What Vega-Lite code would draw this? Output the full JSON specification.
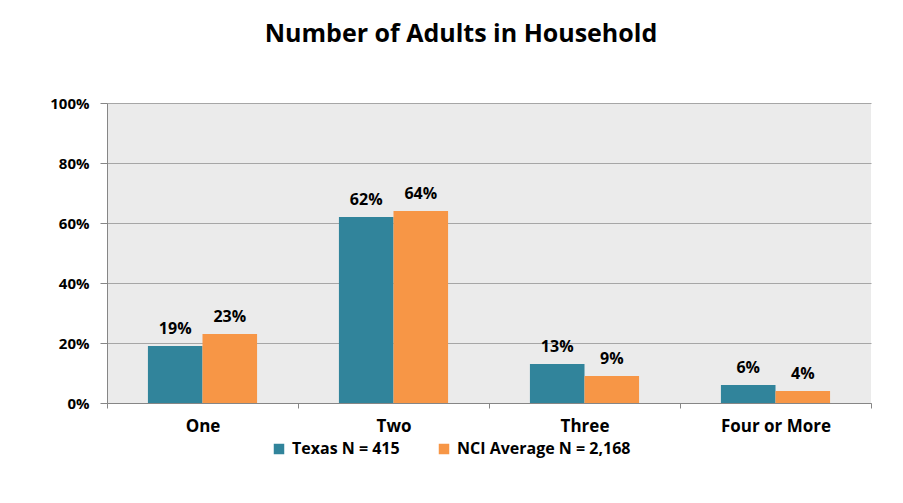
{
  "$schema": "https://vega.github.io/schema/vega-lite/v6.json",
  "autosize": "none",
  "width": 764,
  "height": 300,
  "padding": {"left": 107, "top": 103, "right": 32, "bottom": 100},
  "background": "white",
  "title": {
    "text": "Number of Adults in Household",
    "font": "Open Sans",
    "fontSize": 25,
    "fontWeight": "bold",
    "color": "#000000",
    "anchor": "middle",
    "dx": -28,
    "offset": 49
  },
  "data": {
    "values": [
      {"cat": "One", "series": "Texas N = 415", "value": 0.19},
      {"cat": "One", "series": "NCI Average N = 2,168", "value": 0.23},
      {"cat": "Two", "series": "Texas N = 415", "value": 0.62},
      {"cat": "Two", "series": "NCI Average N = 2,168", "value": 0.64},
      {"cat": "Three", "series": "Texas N = 415", "value": 0.13},
      {"cat": "Three", "series": "NCI Average N = 2,168", "value": 0.09},
      {"cat": "Four or More", "series": "Texas N = 415", "value": 0.06},
      {"cat": "Four or More", "series": "NCI Average N = 2,168", "value": 0.04}
    ]
  },
  "encoding": {
    "x": {
      "field": "cat",
      "type": "nominal",
      "sort": ["One", "Two", "Three", "Four or More"],
      "scale": {"paddingInner": 0, "paddingOuter": 0},
      "axis": {
        "title": null,
        "labelAngle": 0,
        "labelFont": "Open Sans",
        "labelFontSize": 17,
        "labelFontWeight": "bold",
        "labelColor": "#000000",
        "labelPadding": 10,
        "tickBand": "extent",
        "tickSize": 5,
        "tickColor": "#868686",
        "domainColor": "#868686",
        "grid": false
      }
    },
    "xOffset": {
      "field": "series",
      "type": "nominal",
      "sort": ["Texas N = 415", "NCI Average N = 2,168"],
      "scale": {"paddingInner": 0, "paddingOuter": 0.75}
    },
    "y": {
      "field": "value",
      "type": "quantitative",
      "scale": {"domain": [0, 1], "nice": false},
      "axis": {
        "title": null,
        "format": ".0%",
        "values": [0, 0.2, 0.4, 0.6, 0.8, 1],
        "labelFont": "Open Sans",
        "labelFontSize": 15,
        "labelFontWeight": "bold",
        "labelColor": "#000000",
        "labelPadding": 11,
        "tickSize": 7,
        "tickColor": "#868686",
        "domainColor": "#868686",
        "gridColor": "#a6a6a6",
        "gridWidth": 1
      }
    }
  },
  "layer": [
    {
      "mark": {"type": "bar"},
      "encoding": {
        "color": {
          "field": "series",
          "type": "nominal",
          "sort": ["Texas N = 415", "NCI Average N = 2,168"],
          "scale": {"domain": ["Texas N = 415", "NCI Average N = 2,168"], "range": ["#31849b", "#f79646"]},
          "legend": {
            "title": null,
            "orient": "none",
            "direction": "horizontal",
            "legendX": 164,
            "legendY": 338,
            "symbolType": "square",
            "symbolSize": 110,
            "symbolStrokeWidth": 0,
            "labelFont": "Open Sans",
            "labelFontSize": 16,
            "labelFontWeight": "bold",
            "labelColor": "#000000",
            "labelLimit": 400,
            "columnPadding": 36,
            "labelOffset": 5
          }
        }
      }
    },
    {
      "mark": {
        "type": "text",
        "dy": -17,
        "font": "Open Sans",
        "fontSize": 16,
        "fontWeight": "bold",
        "color": "#000000"
      },
      "encoding": {
        "text": {"field": "value", "type": "quantitative", "format": ".0%"}
      }
    }
  ],
  "config": {
    "view": {"fill": "#ebebeb", "stroke": null}
  }
}
